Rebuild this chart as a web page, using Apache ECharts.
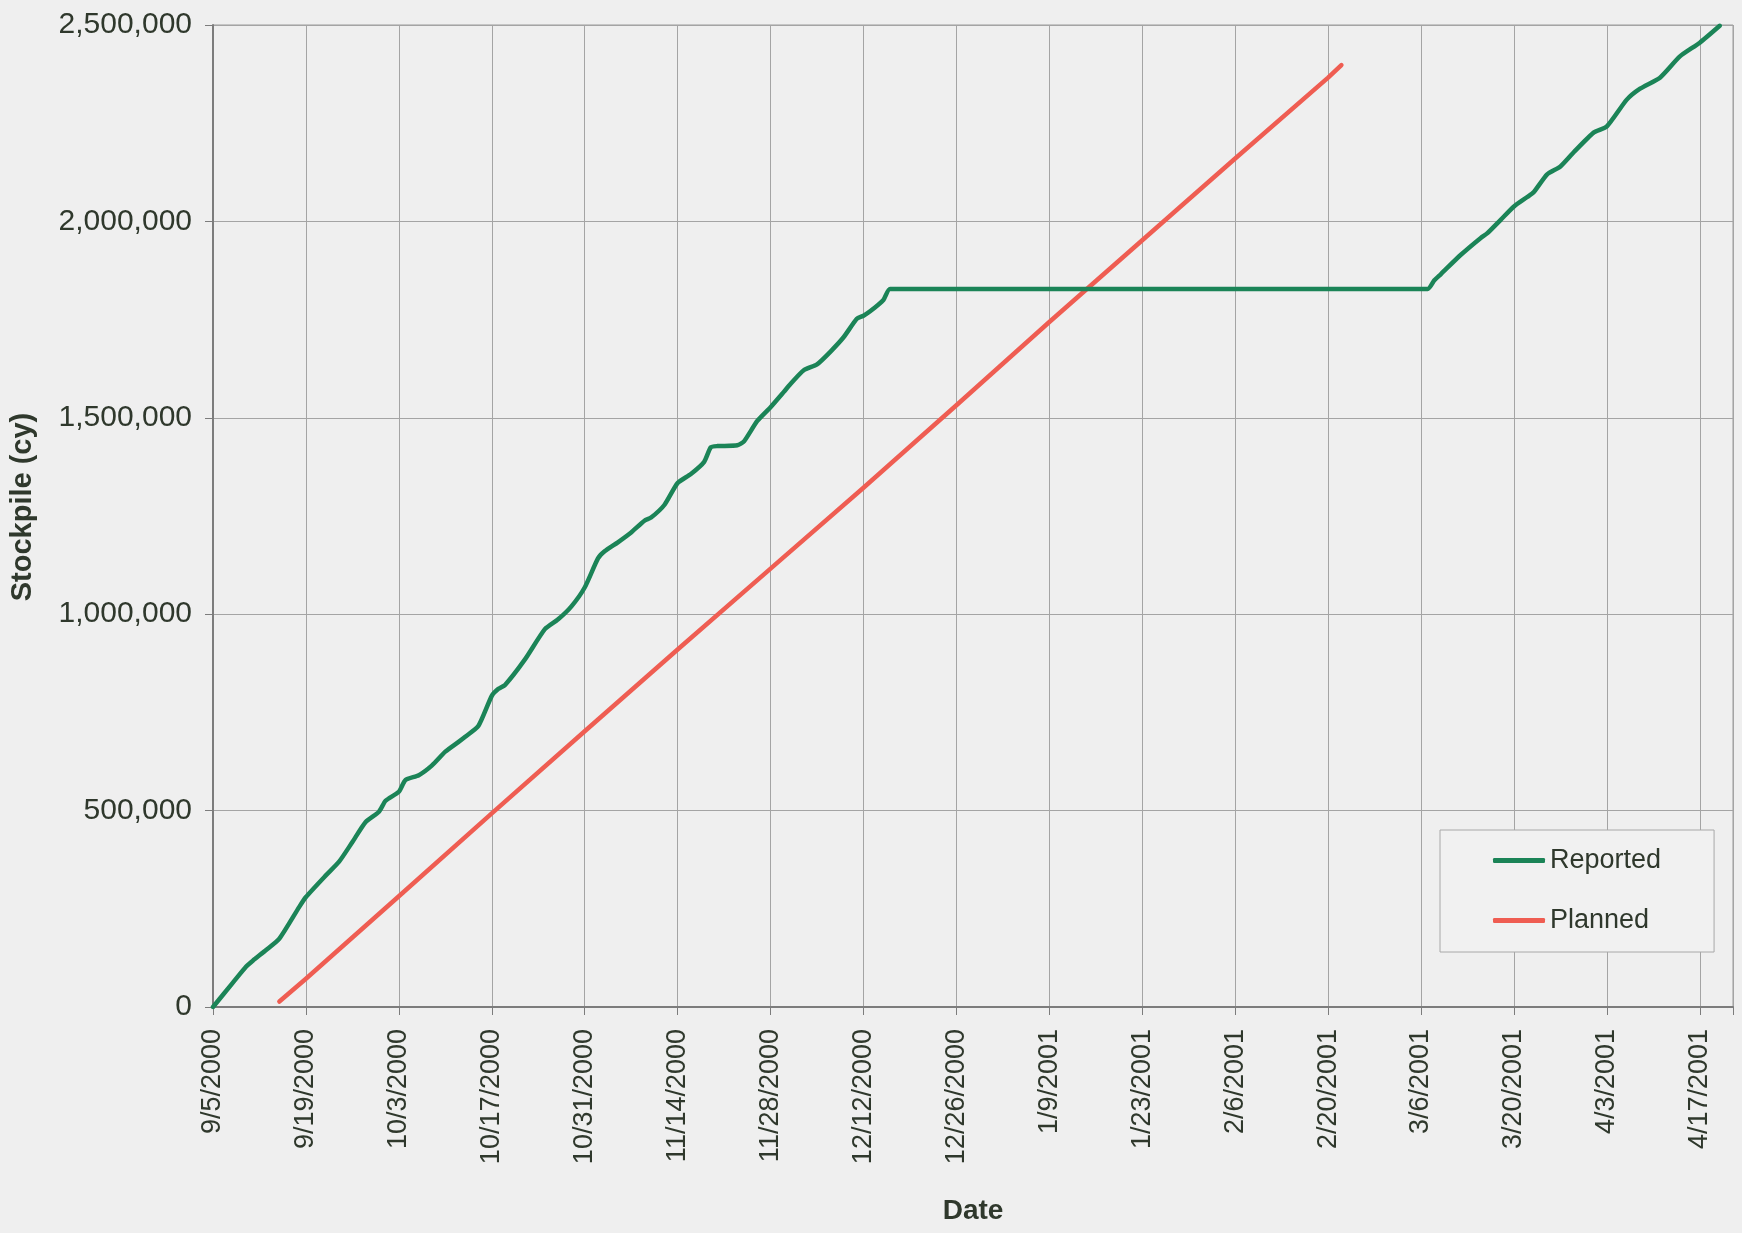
<!DOCTYPE html>
<html>
<head>
<meta charset="utf-8">
<title>Stockpile</title>
<script src="https://cdn.jsdelivr.net/npm/echarts@6/dist/echarts.min.js"></script>
<style>
  html, body { margin: 0; padding: 0; background: #efefef; }
  #chart { width: 1742px; height: 1233px; }
</style>
</head>
<body>
<div id="chart"></div>
<script>
// Cumulative stockpile, reported to date
const reportedDates = [
  '2000-09-05','2000-09-08','2000-09-10','2000-09-11','2000-09-13','2000-09-15','2000-09-18','2000-09-19',
  '2000-09-22','2000-09-24','2000-09-26','2000-09-28','2000-09-30','2000-10-01','2000-10-03','2000-10-04',
  '2000-10-06','2000-10-08','2000-10-10','2000-10-12','2000-10-13','2000-10-15','2000-10-17','2000-10-18',
  '2000-10-19','2000-10-22','2000-10-25','2000-10-27','2000-10-29','2000-10-31','2000-11-02','2000-11-03',
  '2000-11-05','2000-11-07','2000-11-09','2000-11-10','2000-11-12','2000-11-14','2000-11-16','2000-11-18',
  '2000-11-19','2000-11-20','2000-11-23','2000-11-24','2000-11-26','2000-11-28','2000-11-30','2000-12-01',
  '2000-12-03','2000-12-05','2000-12-07','2000-12-09','2000-12-11','2000-12-12','2000-12-13','2000-12-15',
  '2000-12-16','2000-12-26','2001-01-09','2001-01-23','2001-02-06','2001-02-20','2001-03-07','2001-03-08',
  '2001-03-09','2001-03-12','2001-03-15','2001-03-16','2001-03-18','2001-03-20','2001-03-22','2001-03-23',
  '2001-03-25','2001-03-27','2001-03-29','2001-04-01','2001-04-03','2001-04-06','2001-04-08','2001-04-11',
  '2001-04-14','2001-04-17','2001-04-20'
];
const reportedValues = [
  0, 62000, 103000, 118000, 145000, 174000, 255000, 280000,
  335000, 370000, 420000, 471000, 497000, 525000, 548000, 578000,
  590000, 615000, 650000, 675000, 688000, 716000, 792000, 810000,
  820000, 885000, 962000, 987000, 1020000, 1068000, 1142000, 1160000,
  1183000, 1208000, 1238000, 1246000, 1278000, 1334000, 1357000, 1388000,
  1425000, 1428000, 1430000, 1440000, 1492000, 1527000, 1566000, 1586000,
  1621000, 1636000, 1668000, 1705000, 1752000, 1760000, 1771000, 1800000,
  1828000, 1828000, 1828000, 1828000, 1828000, 1828000, 1828000, 1850000,
  1866000, 1915000, 1958000, 1970000, 2004000, 2038000, 2062000, 2075000,
  2120000, 2140000, 2176000, 2226000, 2242000, 2310000, 2338000, 2366000,
  2420000, 2455000, 2498000
];

// Planned cumulative stockpile
const plannedDates = [
  '2000-09-15','2000-09-19','2000-10-03','2000-10-17','2000-10-31','2000-11-14','2000-11-28',
  '2000-12-12','2000-12-26','2001-01-09','2001-01-23','2001-02-06','2001-02-20','2001-02-22'
];
const plannedValues = [
  14000, 72000, 282000, 493000, 702000, 910000, 1116000,
  1322000, 1532000, 1744000, 1952000, 2160000, 2366000, 2398000
];

// Axis range: date axis runs in 14-day steps from the first date
const axisStartDate = '2000-09-05';
const axisEndDate = '2001-04-22';
const dateStepDays = 14;
const stockpileMax = 2500000;
const stockpileStep = 500000;

const DAY = 86400000;
function toUTC(s) {
  const p = s.split('-').map(Number);
  return Date.UTC(p[0], p[1] - 1, p[2]);
}
const t0 = toUTC(axisStartDate);
function dayOffset(s) { return Math.round((toUTC(s) - t0) / DAY); }
function dayLabel(d) {
  const dt = new Date(t0 + d * DAY);
  return (dt.getUTCMonth() + 1) + '/' + dt.getUTCDate() + '/' + dt.getUTCFullYear();
}
function withCommas(v) {
  return String(v).replace(/\B(?=(\d{3})+(?!\d))/g, ',');
}

const reportedSeries = reportedDates.map((d, i) => [dayOffset(d), reportedValues[i]]);
const plannedSeries = plannedDates.map((d, i) => [dayOffset(d), plannedValues[i]]);

const FONT = '"Liberation Sans", Arial, Helvetica, sans-serif';
const TEXT = '#2f382c';

const chart = echarts.init(document.getElementById('chart'), null, { renderer: 'canvas' });
chart.setOption({
  backgroundColor: '#efefef',
  animation: false,
  textStyle: { fontFamily: FONT, color: TEXT },
  grid: {
    left: 213, right: 9, top: 25, bottom: 226,
    show: true, borderColor: '#9a9a9a', borderWidth: 1, backgroundColor: 'transparent'
  },
  xAxis: {
    type: 'value',
    min: 0,
    max: dayOffset(axisEndDate),
    interval: dateStepDays,
    name: 'Date',
    nameLocation: 'middle',
    nameGap: 190,
    nameTextStyle: { fontFamily: FONT, fontSize: 28, fontWeight: 'bold', color: TEXT },
    axisLine: { show: true, onZero: false, lineStyle: { color: '#7c7c7c', width: 2 } },
    axisTick: { show: true, inside: false, length: 8, lineStyle: { color: '#7c7c7c', width: 1 } },
    splitLine: { show: true, lineStyle: { color: '#a4a4a4', width: 1 } },
    axisLabel: {
      rotate: 90,
      margin: 22,
      fontSize: 27,
      fontFamily: FONT,
      color: TEXT,
      formatter: v => (v % dateStepDays === 0 ? dayLabel(v) : '')
    }
  },
  yAxis: {
    type: 'value',
    min: 0,
    max: stockpileMax,
    interval: stockpileStep,
    name: 'Stockpile (cy)',
    nameLocation: 'middle',
    nameGap: 176,
    nameTextStyle: { fontFamily: FONT, fontSize: 29, fontWeight: 'bold', color: TEXT, padding: [0, 0, 0, 18] },
    axisLine: { show: true, lineStyle: { color: '#7c7c7c', width: 2 } },
    axisTick: { show: true, inside: false, length: 8, lineStyle: { color: '#7c7c7c', width: 1 } },
    splitLine: { show: true, lineStyle: { color: '#a4a4a4', width: 1 } },
    axisLabel: {
      margin: 21,
      fontSize: 30,
      fontFamily: FONT,
      color: TEXT,
      formatter: v => withCommas(v)
    }
  },
  legend: {
    orient: 'vertical',
    left: 1440,
    top: 830,
    padding: [17, 53, 18, 53],
    itemGap: 33,
    itemWidth: 52,
    itemHeight: 5,
    icon: 'roundRect',
    backgroundColor: '#f1f1f1',
    borderColor: '#a8a8a8',
    borderWidth: 1,
    borderRadius: 0,
    textStyle: { fontFamily: FONT, fontSize: 27, color: TEXT },
    data: ['Reported', 'Planned']
  },
  series: [
    {
      name: 'Reported',
      type: 'line',
      data: reportedSeries,
      showSymbol: false,
      symbol: 'none',
      smooth: 0.2,
      color: '#1b8457',
      lineStyle: { color: '#1b8457', width: 4.5, cap: 'round', join: 'round' },
      z: 3
    },
    {
      name: 'Planned',
      type: 'line',
      data: plannedSeries,
      showSymbol: false,
      symbol: 'none',
      color: '#ef5d52',
      lineStyle: { color: '#ef5d52', width: 4.5, cap: 'round', join: 'round' },
      z: 2
    }
  ]
});
</script>
</body>
</html>
